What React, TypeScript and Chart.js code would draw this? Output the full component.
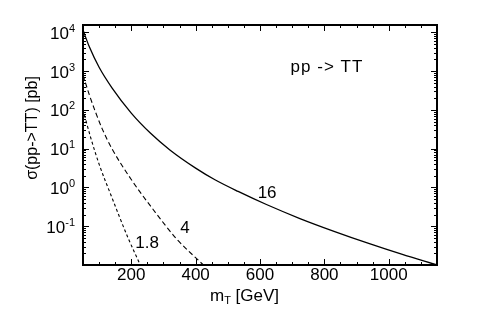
import React, { useEffect, useRef } from "react";
import { Chart, registerables } from "chart.js";

Chart.register(...registerables);

// m_T [GeV] and sigma [pb]
const solid16X = [50, 70, 100, 140, 200, 260, 320, 400, 460, 532, 620, 724, 830, 940, 1040, 1150];
const solid16Y = [11500, 4170, 1260, 372, 83, 25, 9.3, 3.16, 1.58, 0.79, 0.363, 0.158, 0.074, 0.0355, 0.019, 0.01];

const dash4X = [50, 70, 90, 110, 140, 200, 268, 340, 424];
const dash4Y = [800, 240, 83, 32, 10, 1.6, 0.27, 0.048, 0.01];

const dot18X = [50, 75, 100, 137, 190, 228];
const dot18Y = [100, 18, 4, 0.63, 0.05, 0.01];

const xMajorTicks = [200, 400, 600, 800, 1000];
const xMinorTicks = [
  50, 100, 150, 200, 250, 300, 350, 400, 450, 500, 550, 600, 650, 700, 750, 800,
  850, 900, 950, 1000, 1050, 1100, 1150,
];
const yDecadeExponents = [-2, -1, 0, 1, 2, 3, 4];
const yLabelExponents = [-1, 0, 1, 2, 3, 4];
const yLabelSup = ["-1", "0", "1", "2", "3", "4"];

const curveLabelText = ["16", "4", "1.8"];
const curveLabelX = [622, 367, 249];
const curveLabelY = [0.72, 0.091, 0.037];

const processText = "pp -> TT";
const processX = 808;
const processY = 1230;

const X_MIN = 50;
const X_MAX = 1150;
const Y_MIN = 0.01;
const Y_MAX = 15500;

const FONT = "'Liberation Sans', Arial, Helvetica, sans-serif";

function pts(xs: number[], ys: number[]) {
  return xs.map((x, i) => ({ x, y: ys[i] }));
}

const framePlugin = {
  id: "frameAndLabels",
  afterDraw(chart: any) {
    const { ctx, chartArea: a, scales } = chart;
    const xs = scales.x;
    const ys = scales.y;
    ctx.save();
    ctx.strokeStyle = "#000";
    ctx.fillStyle = "#000";
    ctx.lineWidth = 1;
    // x ticks (bottom and top, inward)
    for (const v of xMinorTicks) {
      const px = Math.round(xs.getPixelForValue(v)) + 0.5;
      const len = xMajorTicks.includes(v) ? 6 : 3;
      ctx.beginPath();
      ctx.moveTo(px, a.bottom);
      ctx.lineTo(px, a.bottom - len);
      ctx.moveTo(px, a.top);
      ctx.lineTo(px, a.top + len);
      ctx.stroke();
    }
    // y ticks (left and right, inward)
    for (const e of yDecadeExponents) {
      for (let m = 1; m <= 9; m++) {
        const v = m * Math.pow(10, e);
        if (v < Y_MIN || v > Y_MAX) continue;
        const py = Math.round(ys.getPixelForValue(v)) + 0.5;
        const len = m === 1 ? 6 : 3;
        ctx.beginPath();
        ctx.moveTo(a.left, py);
        ctx.lineTo(a.left + len, py);
        ctx.moveTo(a.right, py);
        ctx.lineTo(a.right - len, py);
        ctx.stroke();
      }
    }
    // frame
    ctx.lineWidth = 2;
    ctx.strokeRect(a.left, a.top, a.right - a.left, a.bottom - a.top);

    // x tick labels
    ctx.font = `17px ${FONT}`;
    ctx.textAlign = "center";
    ctx.textBaseline = "alphabetic";
    for (const v of xMajorTicks) {
      ctx.fillText(String(v), xs.getPixelForValue(v), a.bottom + 15);
    }
    // y tick labels 10^n
    yLabelExponents.forEach((e, i) => {
      const py = ys.getPixelForValue(Math.pow(10, e));
      ctx.font = `11px ${FONT}`;
      const supW = ctx.measureText(yLabelSup[i]).width;
      ctx.font = `17px ${FONT}`;
      const baseW = ctx.measureText("10").width;
      const right = a.left - 8;
      ctx.textAlign = "left";
      ctx.fillText("10", right - supW - baseW, py + 6.5);
      ctx.font = `11px ${FONT}`;
      ctx.fillText(yLabelSup[i], right - supW, py - 0.5);
    });

    // x axis title m_T [GeV]
    ctx.textAlign = "left";
    let tx = 210;
    const ty = a.bottom + 35.5;
    ctx.font = `17px ${FONT}`;
    ctx.fillText("m", tx, ty);
    tx += ctx.measureText("m").width;
    ctx.font = `11px ${FONT}`;
    ctx.fillText("T", tx, ty + 3);
    tx += ctx.measureText("T").width;
    ctx.font = `17px ${FONT}`;
    ctx.fillText(" [GeV]", tx, ty);

    // y axis title
    ctx.save();
    ctx.translate(33, 128);
    ctx.rotate(-Math.PI / 2);
    ctx.font = `16px ${FONT}`;
    ctx.textAlign = "center";
    ctx.textBaseline = "middle";
    ctx.fillText("\u03c3(pp->TT) [pb]", 0, 0);
    ctx.restore();

    // curve labels
    ctx.font = `17px ${FONT}`;
    ctx.textAlign = "center";
    ctx.textBaseline = "middle";
    curveLabelText.forEach((t, i) => {
      ctx.fillText(t, xs.getPixelForValue(curveLabelX[i]), ys.getPixelForValue(curveLabelY[i]));
    });
    (ctx as any).letterSpacing = "1px";
    ctx.fillText(processText, xs.getPixelForValue(processX), ys.getPixelForValue(processY));
    (ctx as any).letterSpacing = "0px";
    ctx.restore();
  },
};

export default function App() {
  const ref = useRef<HTMLCanvasElement | null>(null);
  useEffect(() => {
    document.body.style.margin = "0";
    if (!ref.current) return;
    const chart = new Chart(ref.current, {
      type: "line",
      data: {
        datasets: [
          {
            data: pts(solid16X, solid16Y),
            borderColor: "#000",
            borderWidth: 1.3,
            pointRadius: 0,
            cubicInterpolationMode: "monotone",
            fill: false,
          },
          {
            data: pts(dash4X, dash4Y),
            borderColor: "#000",
            borderWidth: 1.1,
            borderDash: [5, 3],
            pointRadius: 0,
            cubicInterpolationMode: "monotone",
            fill: false,
          },
          {
            data: pts(dot18X, dot18Y),
            borderColor: "#000",
            borderWidth: 1.1,
            borderDash: [3, 2.5],
            pointRadius: 0,
            cubicInterpolationMode: "monotone",
            fill: false,
          },
        ],
      },
      options: {
        responsive: false,
        animation: false,
        events: [],
        layout: { padding: { left: 0, right: 57, top: 25, bottom: 0 } },
        plugins: { legend: { display: false }, tooltip: { enabled: false } },
        scales: {
          x: {
            type: "linear",
            min: X_MIN,
            max: X_MAX,
            grid: { display: false },
            border: { display: false },
            ticks: { display: false },
            afterFit: (s: any) => {
              s.height = 54;
            },
          },
          y: {
            type: "logarithmic",
            min: Y_MIN,
            max: Y_MAX,
            grid: { display: false },
            border: { display: false },
            ticks: { display: false },
            afterFit: (s: any) => {
              s.width = 83;
            },
          },
        },
      },
      plugins: [framePlugin],
    });
    return () => chart.destroy();
  }, []);
  return (
    <div style={{ width: 494, height: 319 }}>
      <canvas ref={ref} width={494} height={319} style={{ display: "block" }} />
    </div>
  );
}
